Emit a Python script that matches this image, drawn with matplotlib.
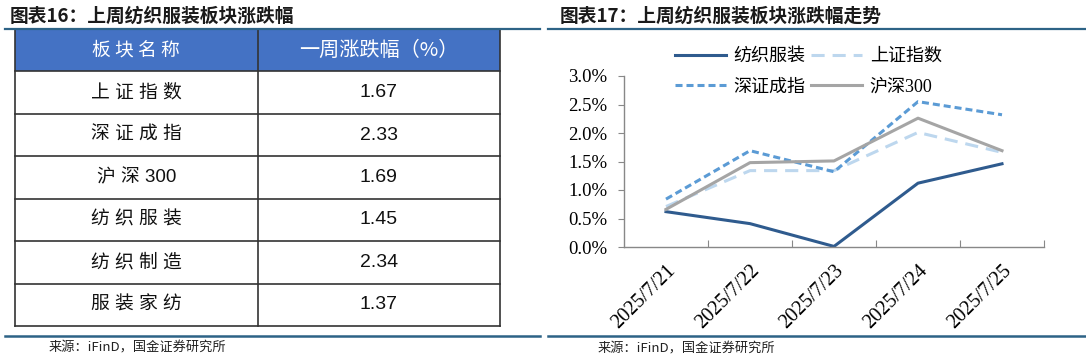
import matplotlib
matplotlib.use("agg")
import matplotlib.pyplot as plt
from matplotlib.lines import Line2D
from matplotlib.patches import Rectangle

plt.rcParams['font.family'] = ['Noto Sans CJK SC', 'DejaVu Sans']

# table data
table_header = ['板块名称', '一周涨跌幅（%）']
table_names = ['上证指数', '深证成指', '沪深 300', '纺织服装', '纺织制造', '服装家纺']
table_values = [1.67, 2.33, 1.69, 1.45, 2.34, 1.37]

# line chart data (%)
dates = ['2025/7/21', '2025/7/22', '2025/7/23', '2025/7/24', '2025/7/25']
textile = [0.62, 0.41, 0.01, 1.12, 1.46]
sse = [0.71, 1.34, 1.34, 2.01, 1.66]
szse = [0.84, 1.69, 1.32, 2.55, 2.32]
csi300 = [0.66, 1.48, 1.51, 2.26, 1.69]
series_names = ['纺织服装', '上证指数', '深证成指', '沪深300']

W, H = 1086, 360
fig = plt.figure(figsize=(W / 100, H / 100), dpi=100)

rule_color = '#2D6386'


def spaced(s):
    # letter-spaced CJK, as in the source table
    out = ''
    for i, c in enumerate(s):
        out += c
        if i < len(s) - 1 and ord(c) > 0x2E80 and ord(s[i + 1]) > 0x2E80:
            out += ' '
    return out


# titles and rules
fig.text(10 / W, 1 - 16 / H, '图表16：上周纺织服装板块涨跌幅', fontsize=13.5,
         fontweight='bold', color='#1a1a1a', va='center', ha='left')
fig.text(560 / W, 1 - 16 / H, '图表17：上周纺织服装板块涨跌幅走势', fontsize=13.5,
         fontweight='bold', color='#1a1a1a', va='center', ha='left')
for x0, x1 in [(5, 540), (548, 1086)]:
    fig.add_artist(Line2D([x0 / W, x1 / W], [1 - 29 / H, 1 - 29 / H],
                          color=rule_color, lw=1.6))
    fig.add_artist(Line2D([x0 / W, x1 / W], [1 - 336 / H, 1 - 336 / H],
                          color=rule_color, lw=1.8))
fig.text(49 / W, 1 - 348 / H, '来源：iFinD，国金证券研究所', fontsize=9.5,
         color='#222222', va='center', ha='left')
fig.text(598 / W, 1 - 349 / H, '来源：iFinD，国金证券研究所', fontsize=9.5,
         color='#222222', va='center', ha='left')

# table
tax = fig.add_axes([15 / W, 1 - 326 / H, 485 / W, 297 / H])
nrows = len(table_names) + 1
tax.set_xlim(0, 1)
tax.set_ylim(nrows, 0)
tax.axis('off')
tax.add_patch(Rectangle((0, 0), 1, 1, facecolor='#4472C4', edgecolor='none'))
for r in range(nrows + 1):
    tax.plot([0, 1], [r, r], color='#333333', lw=1.2, clip_on=False)
for xv in [0, 0.5, 1]:
    tax.plot([xv, xv], [0, nrows], color='#333333', lw=1.2, clip_on=False)
tax.text(0.25, 0.5, spaced(table_header[0]), ha='center', va='center',
         color='white', fontsize=13.5)
tax.text(0.75, 0.5, table_header[1], ha='center', va='center',
         color='white', fontsize=14.5)
for i, (name, val) in enumerate(zip(table_names, table_values)):
    tax.text(0.25, i + 1.5, spaced(name), ha='center', va='center',
             color='#111111', fontsize=13.5,
             family=['Liberation Sans', 'Noto Sans CJK SC'])
    tax.text(0.75, i + 1.5, f'{val:.2f}', ha='center', va='center',
             color='#111111', fontsize=14, family='Liberation Sans')

# line chart
ax = fig.add_axes([624 / W, 1 - 247 / H, 420 / W, 171 / H])
x = range(len(dates))
l1, = ax.plot(x, textile, color='#2F5B8E', lw=2.2, label=series_names[0])
l2, = ax.plot(x, sse, color='#BDD7EE', lw=2.2, dashes=(4.3, 2.6),
              label=series_names[1])
l3, = ax.plot(x, szse, color='#5B9BD5', lw=2.2, dashes=(2.3, 1.3),
              label=series_names[2])
l4, = ax.plot(x, csi300, color='#A5A5A5', lw=2.2, label=series_names[3])

ax.set_xlim(-0.5, len(dates) - 0.5)
ax.set_ylim(0, 3.0)
ax.set_yticks([0, 0.5, 1.0, 1.5, 2.0, 2.5, 3.0])
ax.set_yticklabels([f'{v:.1f}%' for v in [0, 0.5, 1.0, 1.5, 2.0, 2.5, 3.0]],
                   family='Liberation Serif', fontsize=13.5)
ax.set_xticks([i + 0.5 for i in range(len(dates))])
ax.set_xticklabels([])
ax.set_xticks(list(x), minor=True)
ax.set_xticklabels(dates, minor=True, rotation=45, ha='right',
                   rotation_mode='anchor', family='Liberation Serif',
                   fontsize=14.5)
ax.tick_params(axis='x', which='major', direction='in', length=5,
               color='#888888')
ax.tick_params(axis='x', which='minor', length=0, pad=10)
ax.tick_params(axis='y', direction='out', length=4, color='#888888', pad=8)
for s in ['top', 'right']:
    ax.spines[s].set_visible(False)
for s in ['left', 'bottom']:
    ax.spines[s].set_color('#888888')
    ax.spines[s].set_linewidth(1.0)

# column-major order so rows read: 纺织服装 上证指数 / 深证成指 沪深300
fig.legend([l1, l3, l2, l4],
           [series_names[0], series_names[2], series_names[1], series_names[3]],
           loc='upper left', bbox_to_anchor=(675 / W, 1 - 48 / H), ncol=2,
           frameon=False, borderpad=0, borderaxespad=0, handlelength=2.8,
           handletextpad=0.45, columnspacing=0.3, labelspacing=0.75,
           prop={'family': ['Liberation Serif', 'Noto Sans CJK SC'],
                 'size': 13})

fig.savefig('out.png', dpi=100)
